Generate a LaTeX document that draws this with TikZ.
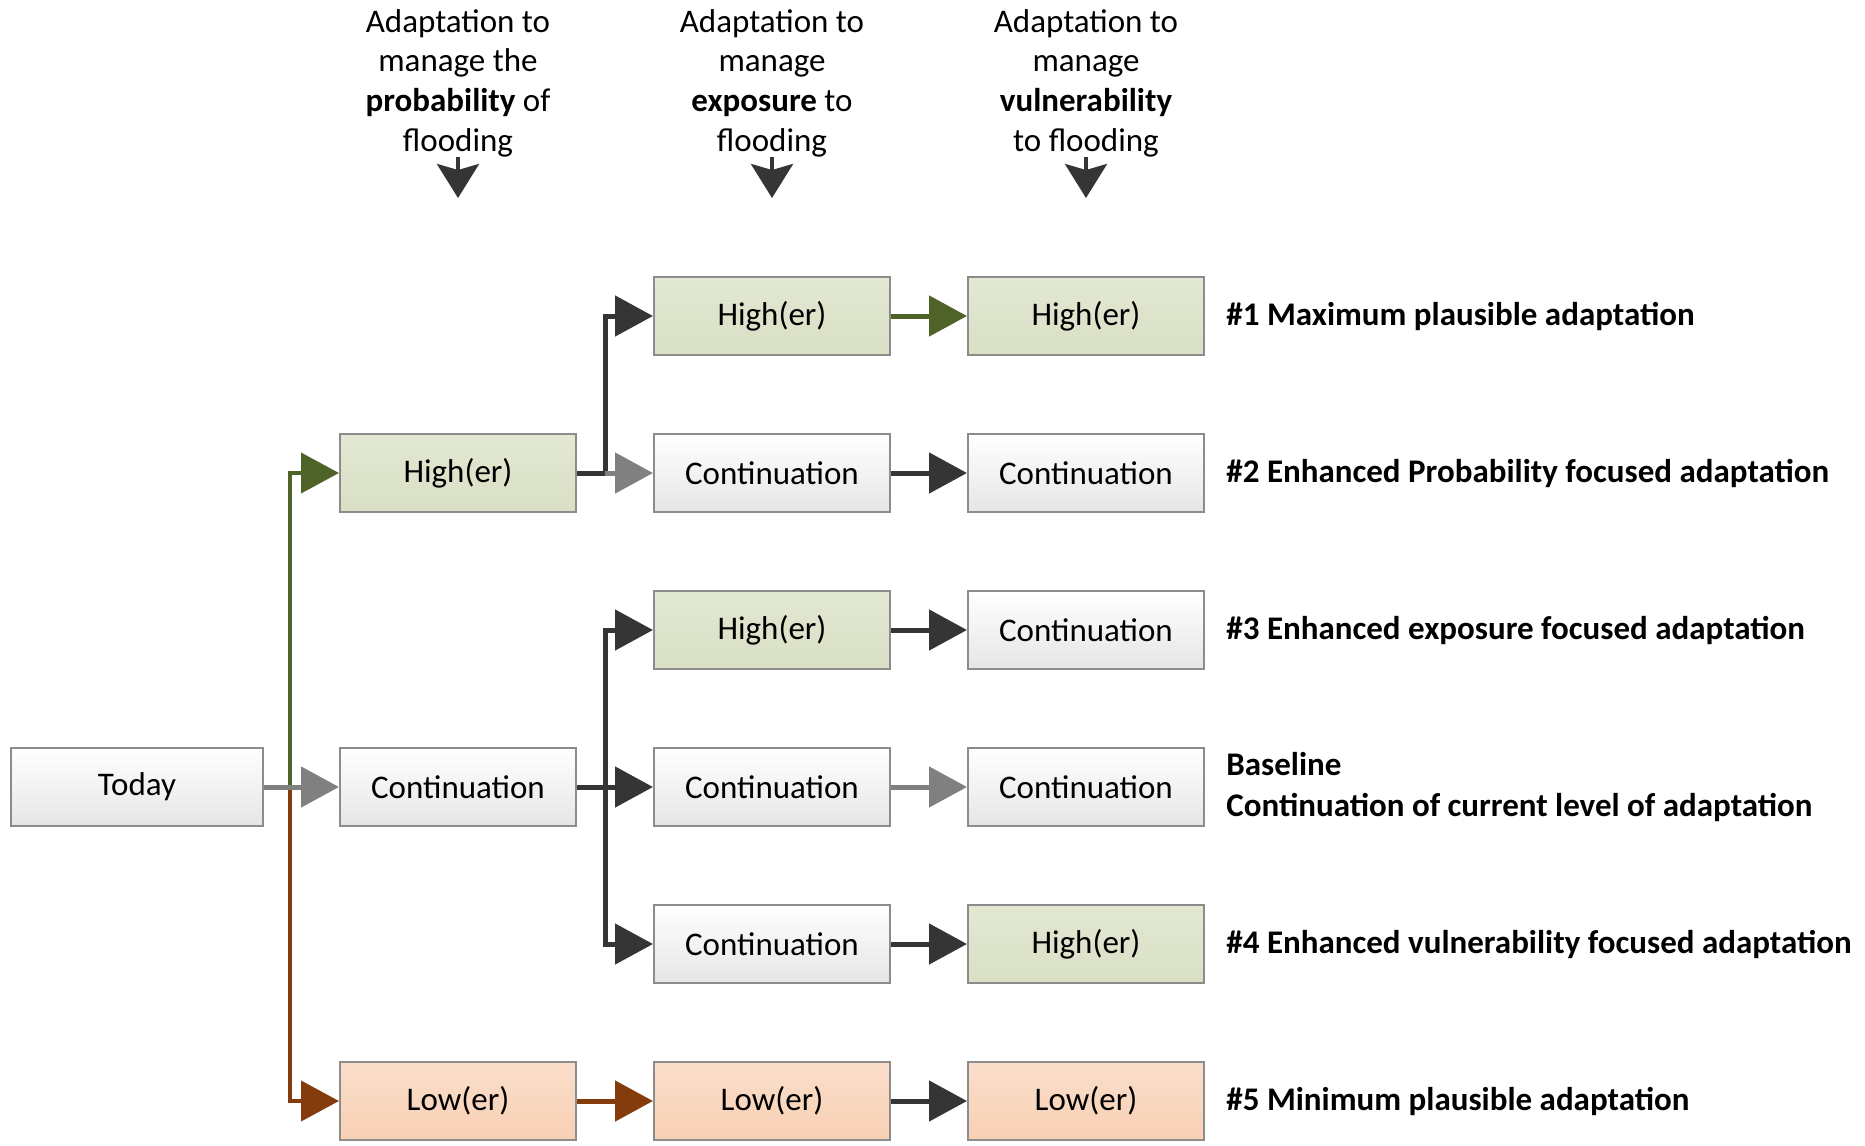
\documentclass[tikz,border=0pt]{standalone}
\usepackage{fontspec}
\setmainfont{Carlito}
\usetikzlibrary{arrows.meta,positioning,calc}
\definecolor{leaf}{HTML}{4F6228}
\definecolor{rust}{HTML}{843C0C}
\definecolor{ink}{HTML}{353535}
\definecolor{mist}{HTML}{808080}
\definecolor{sage}{HTML}{D9E0C4}
\definecolor{peach}{HTML}{F8D0B4}

\begin{document}
\begin{tikzpicture}[x=.5pt,y=-.5pt,font=\fontsize{16.5}{19.8}\selectfont,
 box/.style={draw=black!45,line width=1pt,minimum width=118pt,minimum height=39pt,inner sep=0pt},
 grey/.style={box,top color=white,bottom color=black!10},
 hi/.style={box,top color=sage!75!white,bottom color=sage},
 lo/.style={box,top color=peach!70!white,bottom color=peach},
 link/.style={line width=2.5pt,-{Triangle[length=19pt,width=20pt]}},
 stem/.style={line width=2.5pt},
 head/.style={align=center,inner sep=0pt},
 drop/.style={line width=2pt,ink,-{Stealth[length=17pt,width=21pt,inset=3pt]}},
 tag/.style={font=\fontsize{16.5}{20.5}\selectfont\bfseries,align=left,inner sep=0pt,anchor=west}]
\useasboundingbox (0,0) rectangle (1865,1146);
\foreach \x/\txt [count=\k] in {458/{Adaptation to\\manage the\\\textbf{probability} of\\flooding},
 772/{Adaptation to\\manage\\\textbf{exposure} to\\flooding},
 1086/{Adaptation to\\manage\\\textbf{vulnerability}\\to flooding}} {
 \node[head] (h\k) at (\x,83) {\txt};
 \coordinate (d\k) at (\x,198);
 \draw[drop] (h\k) -- (d\k);}
\node[grey,minimum width=126pt] (today) at (137,787) {Today};
\node[hi] (p1) at (458,473) {High(er)};
\node[grey] (p2) at (458,787) {Continuation};
\node[lo] (p3) at (458,1101) {Low(er)};
\foreach \se/\te/\sv/\tv/\clr [count=\k] in {hi/High(er)/hi/High(er)/leaf,
 grey/Continuation/grey/Continuation/ink,
 hi/High(er)/grey/Continuation/ink,
 grey/Continuation/grey/Continuation/mist,
 grey/Continuation/hi/High(er)/ink,
 lo/Low(er)/lo/Low(er)/ink} {
 \pgfmathsetmacro{\yy}{159+157*\k}
 \node[\se] (e\k) at (772,\yy) {\te};
 \node[\sv] (v\k) at (1086,\yy) {\tv};
 \draw[link,\clr] (e\k) -- (v\k);}
\foreach \lab [count=\k] in {\#1 Maximum plausible adaptation,
 \#2 Enhanced Probability focused adaptation,
 \#3 Enhanced exposure focused adaptation,
 {Baseline\\Continuation of current level of adaptation},
 \#4 Enhanced vulnerability focused adaptation,
 \#5 Minimum plausible adaptation}
 \node[tag,right=10.5pt of v\k] (n\k) {\lab};
\coordinate (jt) at (290,787);
\coordinate (ja) at (605,473);
\coordinate (jb) at (605,787);
\draw[link,leaf,line width=2pt] (jt) |- (p1);
\draw[link,rust,line width=2pt] (jt) |- (p3);
\draw[stem,mist] (today) -- (jt);
\draw[link,mist] (jt) -- (p2);
\draw[stem,ink] (p1) -- (ja);
\draw[link,ink] (ja) |- (e1);
\draw[link,mist] (ja) -- (e2);
\draw[stem,ink] (p2) -- (jb);
\draw[link,ink] (jb) |- (e3);
\draw[link,ink] (jb) -- (e4);
\draw[link,ink] (jb) |- (e5);
\draw[link,rust] (p3) -- (e6);
\end{tikzpicture}
\end{document}
